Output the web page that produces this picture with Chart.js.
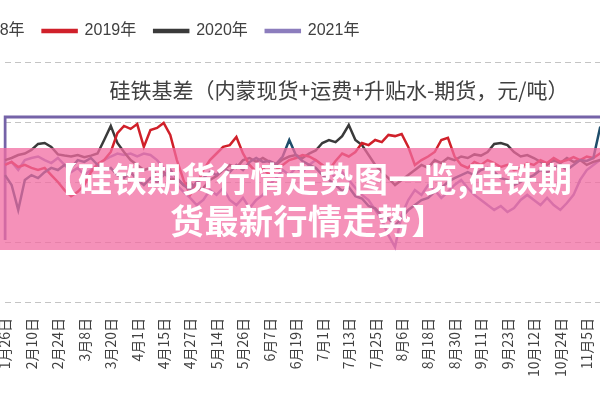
<!DOCTYPE html>
<html>
<head>
<meta charset="utf-8">
<script src="https://cdn.jsdelivr.net/npm/chart.js@4"></script>
<style>
  html, body { margin: 0; padding: 0; width: 600px; height: 400px; overflow: hidden; background: #fff; }
  #wrap { position: absolute; left: -110px; top: 0; width: 756px; height: 400px; }
  #banner {
    position: absolute; left: 0; top: 148px; width: 600px; height: 102px;
    box-sizing: border-box; padding-top: 9px; padding-left: 16px;
    background: rgba(241, 108, 161, 0.75);
    color: #fff; font: bold 34px "Noto Sans CJK SC", sans-serif;
    line-height: 42px; text-align: center; letter-spacing: 0.5px;
  }
</style>
</head>
<body>
<div id="wrap"><canvas id="basisChart" width="756" height="400"></canvas></div>
<div id="banner">【硅铁期货行情走势图一览,硅铁期<br>货最新行情走势】</div>
<script>
// 横轴刻度（每 4 个点一个标签）
const tickLabels = ['1月26日', '2月10日', '2月24日', '3月8日', '3月20日', '4月1日', '4月15日', '4月27日',
  '5月14日', '5月26日', '6月7日', '6月19日', '7月1日', '7月13日', '7月25日', '8月6日', '8月18日',
  '8月30日', '9月11日', '9月23日', '10月12日', '10月24日', '11月5日', '11月17日'];
const pointsPerTick = 4;

const seriesNames = ['2018年', '2019年', '2020年', '2021年'];
const seriesColors = ['#1f4e6b', '#d0202a', '#3a3a3a', '#8c7dbd'];

// 基差，元/吨
const basis2018 = [23, -10, -93, 7, 23, 13, 33, 47, 40, 57,
  47, 73, 67, 80, 57, 40, 47, 23, 13, 33,
  7, -10, 13, 0, 23, 40, 13, -10, -27, 0,
  13, 33, 23, 47, 33, 57, 40, 67, 80, 67,
  70, 60, 85, 140, 90, 70, 57, 47, 23, 7,
  -10, -30, -17, -47, -55, -80, -88, -113, -122, -145,
  -120, -93, -77, -60, -53, -33, -20, 0, 13, 23,
  33, 23, 40, 47, 33, 13, 7, -10, 0, 13,
  23, 40, 33, 47, 57, 40, 57, 73, 70, 80,
  180, 170, 160];
const basis2019 = [57, 67, 50, 57, 47, 40, 47, 23, 0, -27,
  -47, -33, -10, 33, 60, 73, 100, 163, 187, 177,
  193, 117, 173, 180, 197, 157, 73, 7, -43, -10,
  40, 73, 95, 117, 123, 150, 95, 57, 33, 47,
  23, 40, 57, 73, 80, 90, 85, 73, 57, 40,
  70, 95, 85, 100, 130, 123, 140, 133, 157, 153,
  160, 117, 57, 73, 85, 100, 140, 147, 85, 57,
  47, 67, 57, 73, 63, 50, 57, 40, 47, 63,
  57, 73, 63, 80, 67, 73, 83, 73, 85, 80,
  95, 93, 97];
const basis2020 = [73, 80, 90, 95, 107, 127, 130, 117, 92, 88,
  85, 90, 83, 88, 95, 140, 187, 130, 100, 73,
  57, 40, 47, 23, 33, 7, 13, -10, 0, -27,
  -20, 7, 20, 40, 57, 47, 73, 80, 67, 80,
  67, 57, 75, 85, 90, 80, 95, 105, 130, 140,
  133, 153, 190, 140, 123, 90, 57, 33, 13, -10,
  7, 23, 40, 57, 47, 73, 63, 80, 73, 85,
  80, 92, 88, 100, 127, 130, 123, 100, 85, 90,
  80, 67, 57, 73, 63, 80, 67, 73, 57, 67,
  73, 70, 75];
const basis2021 = [57, 67, 40, 73, 80, 85, 73, 63, 80, 57,
  33, 47, 23, 40, 57, 73, 85, 95, 90, 95,
  85, 95, 90, 73, 47, 23, -10, -33, -53, -77,
  -60, -27, -43, -20, -60, -77, -53, -87, -60, -43,
  -10, 13, 40, 23, 47, 33, 57, 73, 57, 40,
  13, 33, 7, -20, -43, -60, -93, -127, -177, -217,
  -110, -60, -27, -43, -10, -27, -53, -33, -10, 7,
  -20, -43, -60, -77, -93, -80, -100, -87, -60, -43,
  -60, -77, -53, -77, -93, -70, -43, 7, 40, 57,
  73, 67, 70];

// 紫色外框线
const frameX = ['1月26日', '1月26日', '11月17日'];
const frameY = [-193, 217, 217];

const chartTitle = '硅铁基差（内蒙现货+运费+升贴水-期货，元/吨）';

const categories = [];
tickLabels.forEach((t, k) => {
  categories.push(t);
  if (k < tickLabels.length - 1) {
    for (let j = 1; j < pointsPerTick; j++) categories.push('');
  }
});

const allSeries = [basis2018, basis2019, basis2020, basis2021];
const datasets = allSeries.map((vals, k) => ({
  label: seriesNames[k],
  data: vals,
  borderColor: seriesColors[k],
  backgroundColor: seriesColors[k],
  borderWidth: 2.5,
  pointRadius: 0,
  tension: 0
}));
datasets.push({
  label: '',
  data: frameX.map((x, k) => ({ x: x, y: frameY[k] })),
  borderColor: '#7563a8',
  backgroundColor: '#7563a8',
  borderWidth: 3,
  pointRadius: 0
});

const titlePlugin = {
  id: 'innerTitle',
  afterDraw(chart) {
    const { ctx, chartArea } = chart;
    ctx.save();
    ctx.font = '21px "Noto Sans CJK SC"';
    ctx.fillStyle = '#404040';
    ctx.textAlign = 'center';
    ctx.textBaseline = 'middle';
    ctx.fillText(chartTitle, chartArea.left + 334, chartArea.top + 28);
    ctx.restore();
  }
};

const legendHeight = {
  id: 'legendHeight',
  afterInit(chart) {
    const fit = chart.legend.fit;
    chart.legend.fit = function () {
      fit.call(this);
      this.height = 57;
    };
  }
};

const ctx = document.getElementById('basisChart').getContext('2d');
new Chart(ctx, {
  type: 'line',
  data: { labels: categories, datasets: datasets },
  options: {
    responsive: false,
    animation: false,
    layout: { padding: { left: 23, right: 10, top: 5, bottom: 0 } },
    plugins: {
      legend: {
        position: 'top',
        align: 'start',
        labels: {
          boxWidth: 34,
          boxHeight: 2,
          padding: 18,
          color: '#404040',
          font: { family: '"Liberation Sans", "Noto Sans CJK SC"', size: 16 },
          filter: item => item.text !== ''
        }
      },
      tooltip: { enabled: false }
    },
    scales: {
      x: {
        grid: { display: false, drawTicks: false },
        border: { display: false },
        ticks: {
          autoSkip: false,
          minRotation: 90,
          maxRotation: 90,
          padding: 16,
          color: '#404040',
          font: { family: '"Noto Sans CJK SC"', size: 14 }
        },
        afterFit(scale) { scale.height = 98; }
      },
      y: {
        min: -400,
        max: 400,
        ticks: { display: false, stepSize: 200 },
        grid: { color: '#c4c4c4', lineWidth: 1, drawTicks: false },
        border: { display: false, dash: [6, 4] },
        afterFit(scale) { scale.width = 92; }
      }
    }
  },
  plugins: [titlePlugin, legendHeight]
});
</script>
</body>
</html>
